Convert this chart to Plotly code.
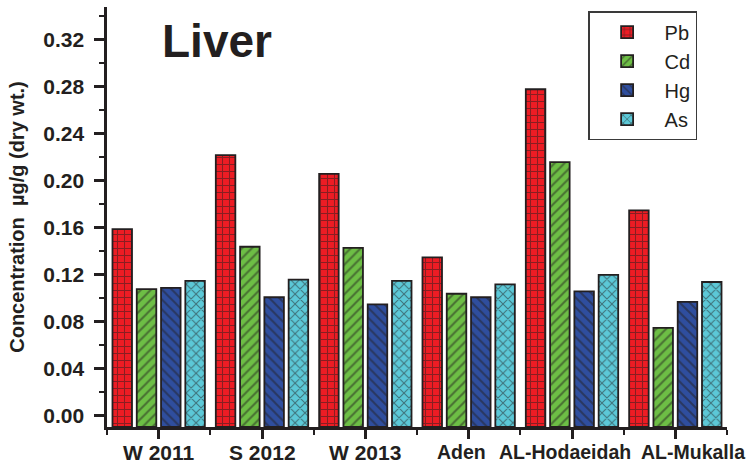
import plotly.graph_objects as go

categories = ["W 2011", "S 2012", "W 2013", "Aden", "AL-Hodaeidah", "AL-Mukalla"]
pb = [0.159, 0.222, 0.206, 0.135, 0.278, 0.175]
cd = [0.108, 0.144, 0.143, 0.104, 0.216, 0.075]
hg = [0.109, 0.101, 0.095, 0.101, 0.106, 0.097]
as_ = [0.115, 0.116, 0.115, 0.112, 0.120, 0.114]
series_names = ["Pb", "Cd", "Hg", "As"]
ytick_vals = [0.00, 0.04, 0.08, 0.12, 0.16, 0.20, 0.24, 0.28, 0.32]

YMIN, YMAX = -0.0094, 0.348
FONT = "Liberation Sans, Arial, Helvetica, sans-serif"
INK = "#231F20"
NB = "\u00a0"

colors = ["#ED1C24", "#6DBE45", "#2F4E9E", "#5CC8D7"]
shapes = ["+", "/", "\\", "x"]
values = [pb, cd, hg, as_]

xpos = list(range(len(categories)))

fig = go.Figure()
for name, vals, col, shp in zip(series_names, values, colors, shapes):
    fig.add_trace(go.Bar(
        x=xpos, y=[v - YMIN for v in vals], base=YMIN, name=name,
        customdata=vals, hovertemplate="%{customdata:.3f}<extra>" + name + "</extra>",
        marker=dict(color=col,
                    line=dict(color=INK, width=1.8),
                    pattern=dict(shape=shp, fgcolor=INK, bgcolor=col,
                                 size=7, solidity=0.28, fillmode="overlay")),
    ))

# category labels drawn as text under the tick marks (nudged / sized as in the original)
label_style = {  # category: (offset in category units, font size)
    "W 2011": (0.0, 21), "S 2012": (0.0, 21), "W 2013": (0.0, 21),
    "Aden": (-0.07, 19.5), "AL-Hodaeidah": (-0.07, 19.5), "AL-Mukalla": (0.175, 19.5),
}
for i, c in enumerate(categories):
    off, fs = label_style[c]
    fig.add_annotation(text=c, x=i + off, xref="x", y=-0.06, yref="paper",
                       xanchor="center", yanchor="middle", showarrow=False,
                       font=dict(size=fs, family=FONT, color=INK, weight="bold"))

fig.update_layout(
    width=749, height=469,
    margin=dict(l=107, r=22, t=7, b=42, autoexpand=False),
    paper_bgcolor="white", plot_bgcolor="white",
    barmode="group", bargap=0.06, bargroupgap=0.196,
    font=dict(family=FONT, color=INK),
    showlegend=True,
    legend=dict(x=0.776, y=0.99, xanchor="left", yanchor="top",
                bordercolor="#3a3a3a", borderwidth=1.5, bgcolor="white",
                font=dict(size=20, family=FONT, color=INK),
                itemwidth=65),
    xaxis=dict(range=[-0.5, 5.5], tickmode="array", tickvals=xpos,
               showticklabels=False, automargin=False,
               showline=True, linecolor=INK, linewidth=2.5,
               ticks="outside", ticklen=9, tickwidth=2.5, tickcolor=INK,
               minor=dict(dtick=0.5, tick0=-0.5, ticks="outside", ticklen=5,
                          tickwidth=2, tickcolor=INK),
               showgrid=False, zeroline=False),
    yaxis=dict(range=[YMIN, YMAX], tickmode="array", tickvals=ytick_vals,
               ticktext=[f"{v:.2f}{NB}" for v in ytick_vals], automargin=False,
               showline=True, linecolor=INK, linewidth=2.5,
               ticks="outside", ticklen=10, tickwidth=2.5, tickcolor=INK,
               minor=dict(dtick=0.02, tick0=0, ticks="outside", ticklen=5,
                          tickwidth=2, tickcolor=INK),
               showgrid=False, zeroline=False,
               tickfont=dict(size=21, family=FONT, color=INK, weight="bold"),
               title=dict(text="Concentration  µg/g (dry wt.)", standoff=14,
                          font=dict(size=20, family=FONT, color=INK, weight="bold"))),
)
fig.add_annotation(text="Liver", xref="paper", yref="paper",
                   x=(160 - 107) / 620, y=(427 - 41) / 420,
                   xanchor="left", yanchor="middle", showarrow=False,
                   font=dict(size=46, family=FONT, color=INK, weight="bold"))

fig.write_html("out.html", config={"displayModeBar": False},
               post_script="document.body.style.margin='0';")
